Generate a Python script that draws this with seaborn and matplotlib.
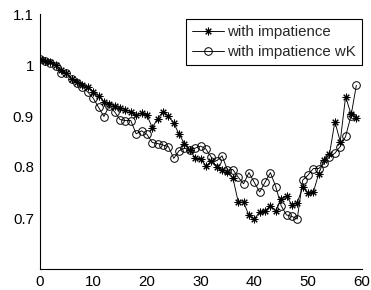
import numpy as np
import pandas as pd
import matplotlib
matplotlib.use("Agg")
import matplotlib.pyplot as plt
import seaborn as sns

x_vals = list(range(60))
with_impatience = [
    1.012, 1.008, 1.005, 1.000, 0.990, 0.984, 0.972, 0.967, 0.960, 0.956,
    0.948, 0.940, 0.928, 0.924, 0.920, 0.916, 0.912, 0.908, 0.902, 0.905,
    0.902, 0.877, 0.895, 0.908, 0.900, 0.886, 0.864, 0.846, 0.833, 0.818,
    0.816, 0.802, 0.811, 0.800, 0.795, 0.791, 0.779, 0.732, 0.731, 0.705,
    0.698, 0.712, 0.714, 0.724, 0.714, 0.737, 0.743, 0.726, 0.730, 0.760,
    0.749, 0.751, 0.787, 0.814, 0.825, 0.889, 0.850, 0.938, 0.904, 0.897,
]
with_impatience_wk = [
    1.012, 1.007, 1.004, 0.998, 0.985, 0.985, 0.972, 0.965, 0.957, 0.947,
    0.935, 0.917, 0.899, 0.920, 0.908, 0.893, 0.891, 0.891, 0.865, 0.871,
    0.864, 0.848, 0.846, 0.843, 0.840, 0.817, 0.832, 0.837, 0.833, 0.837,
    0.841, 0.835, 0.819, 0.812, 0.822, 0.794, 0.795, 0.780, 0.767, 0.789,
    0.770, 0.751, 0.770, 0.789, 0.761, 0.724, 0.706, 0.703, 0.698, 0.774,
    0.784, 0.797, 0.797, 0.807, 0.820, 0.827, 0.840, 0.860, 0.900, 0.960,
]
series_names = ["with impatience", "with impatience wK"]
x_ticks = [0, 10, 20, 30, 40, 50, 60]
y_ticks = [0.7, 0.8, 0.9, 1.0, 1.1]
y_tick_labels = ["0.7", "0.8", "0.9", "1", "1.1"]

sns.set_style("white")
plt.rcParams["font.family"] = ["Liberation Sans", "DejaVu Sans"]

df1 = pd.DataFrame({"x": x_vals, "y": with_impatience})
df2 = pd.DataFrame({"x": x_vals, "y": with_impatience_wk})

fig = plt.figure(figsize=(3.71, 2.90), dpi=100)
ax = fig.add_axes([39.5 / 371, 1 - 269 / 290, (361.7 - 39.5) / 371, (269 - 14) / 290])

sns.lineplot(data=df1, x="x", y="y", ax=ax, color="black", linewidth=0.65,
             marker=(8, 2, 0), markersize=5.5, markeredgewidth=0.75,
             markerfacecolor="black", markeredgecolor="black",
             label=series_names[0])
sns.lineplot(data=df2, x="x", y="y", ax=ax, color="black", linewidth=0.65,
             marker="o", markersize=5.5, markeredgewidth=0.7,
             markerfacecolor="none", markeredgecolor="black",
             label=series_names[1])

ax.set_xlim(0, 60)
ax.set_ylim(0.6, 1.1)
ax.set_xticks(x_ticks)
ax.set_xticklabels([str(t) for t in x_ticks])
ax.set_yticks(y_ticks)
ax.set_yticklabels(y_tick_labels)
ax.set_xlabel("")
ax.set_ylabel("")
ax.tick_params(direction="in", length=3, width=0.8, labelsize=10.8,
               colors="black", pad=4)
for s in ["top", "right"]:
    ax.spines[s].set_visible(False)
for s in ["left", "bottom"]:
    ax.spines[s].set_color("black")
    ax.spines[s].set_linewidth(0.8)

leg = ax.legend(loc="upper right", bbox_to_anchor=(1.0, 0.98), fontsize=10.8,
                frameon=True, fancybox=False, framealpha=1, edgecolor="black",
                handlelength=2.1, handletextpad=0.2, borderpad=0.4,
                labelspacing=0.4, borderaxespad=0.0)
leg.get_frame().set_linewidth(0.8)

fig.savefig("out.png", dpi=100)
